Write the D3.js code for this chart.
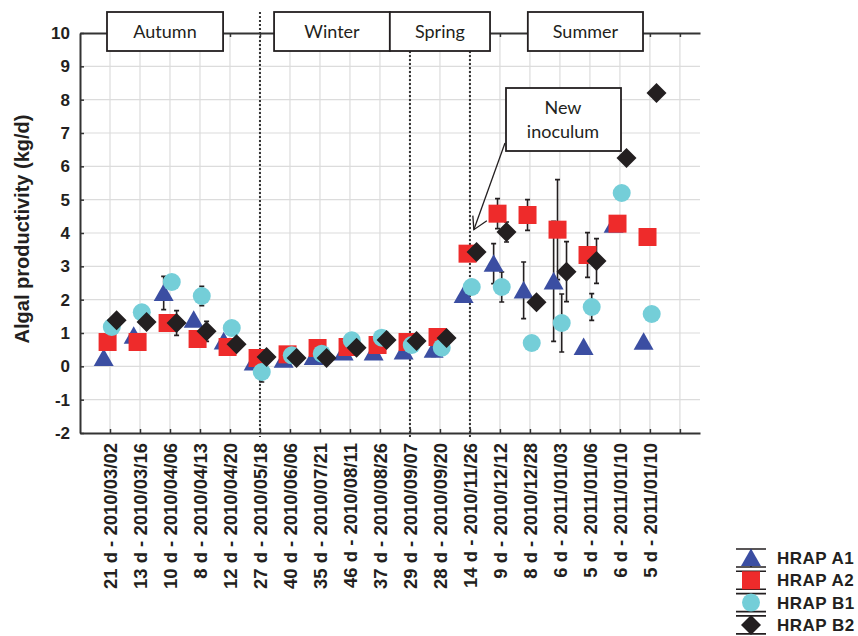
<!DOCTYPE html>
<html lang="en">

<head>
    <meta charset="utf-8">
    <script src="https://d3js.org/d3.v7.min.js"></script>
    <style>
        body {
            margin: 0;
            background: #fff;
            font-family: "Liberation Sans", Arial, sans-serif;
        }
    </style>
</head>

<body>
    <div id="chart"></div>
    <script>
        // categories (x axis), one per sampling
        var categories = ["21 d - 2010/03/02", "13 d - 2010/03/16", "10 d - 2010/04/06", "8 d - 2010/04/13",
            "12 d - 2010/04/20", "27 d - 2010/05/18", "40 d - 2010/06/06", "35 d - 2010/07/21",
            "46 d - 2010/08/11", "37 d - 2010/08/26", "29 d - 2010/09/07", "28 d - 2010/09/20",
            "14 d - 2010/11/26", "9 d - 2010/12/12", "8 d - 2010/12/28", "6 d - 2011/01/03",
            "5 d - 2011/01/06", "6 d - 2011/01/10", "5 d - 2011/01/10"
        ];

        // algal productivity (kg/d)
        var hrapA1 = [0.25, 0.92, 2.2, 1.4, 0.75, 0.12, 0.2, 0.28, 0.42, 0.42, 0.45, 0.5, 2.14, 3.08, 2.28, 2.55, 0.58, 4.25, 0.74];
        var hrapA2 = [0.73, 0.73, 1.3, 0.82, 0.58, 0.25, 0.36, 0.55, 0.58, 0.64, 0.73, 0.88, 3.38, 4.58, 4.54, 4.1, 3.34, 4.28, 3.88];
        var hrapB1 = [1.18, 1.62, 2.53, 2.11, 1.15, -0.17, 0.33, 0.38, 0.78, 0.86, 0.64, 0.56, 2.38, 2.38, 0.7, 1.3, 1.78, 5.2, 1.57];
        var hrapB2 = [1.38, 1.33, 1.3, 1.05, 0.66, 0.28, 0.25, 0.25, 0.56, 0.79, 0.76, 0.85, 3.43, 4.03, 1.92, 2.84, 3.16, 6.25, 8.2];

        // error bars (+/- kg/d), null = none
        var errA1 = [null, null, 0.5, null, null, null, null, null, null, null, null, 0.2, null, 0.6, 0.85, 1.8, null, null, null];
        var errA2 = [null, null, null, null, null, null, null, null, null, null, null, null, 0.2, 0.45, 0.46, 1.5, 0.67, null, null];
        var errB1 = [null, null, null, 0.29, null, 0.3, null, null, null, null, null, null, null, 0.45, null, 0.87, 0.4, null, null];
        var errB2 = [null, null, 0.37, 0.3, null, null, null, null, null, null, null, null, null, 0.3, null, 0.9, 0.67, null, null];

        var seriesNames = ["HRAP A1", "HRAP A2", "HRAP B1", "HRAP B2"];
        var seasons = ["Autumn", "Winter", "Spring", "Summer"];
        // season changes (category number)
        var seasonBreaks = [6, 11, 13];
        var yTicks = [-2, -1, 0, 1, 2, 3, 4, 5, 6, 7, 8, 9, 10];

        // layout
        var W = 858,
            H = 636;
        var mLeft = 80,
            mRight = 700,
            mTop = 33,
            mBottom = 433;

        var svg = d3.select("#chart")
            .append("svg")
            .attr("width", W)
            .attr("height", H);

        var x = d3.scaleLinear().domain([0, 20.67]).range([mLeft, mRight]);
        var y = d3.scaleLinear().domain([-2, 10]).range([mBottom, mTop]);

        var xTickVals = d3.range(1, 21);

        // grid
        svg.append("g")
            .selectAll("line")
            .data(xTickVals)
            .enter()
            .append("line")
            .attr("x1", function(d) { return x(d); })
            .attr("x2", function(d) { return x(d); })
            .attr("y1", mTop)
            .attr("y2", mBottom)
            .attr("stroke", "#dcdcdc")
            .attr("stroke-width", 1.2);

        svg.append("g")
            .selectAll("line")
            .data(yTicks.slice(1, -1))
            .enter()
            .append("line")
            .attr("x1", mLeft)
            .attr("x2", mRight)
            .attr("y1", function(d) { return y(d); })
            .attr("y2", function(d) { return y(d); })
            .attr("stroke", "#dcdcdc")
            .attr("stroke-width", 1.2);

        // axes
        var yAxis = svg.append("g")
            .attr("transform", "translate(" + mLeft + ",0)")
            .call(d3.axisLeft(y).tickValues(yTicks).tickSize(-4).tickPadding(10).tickSizeOuter(0)
                .tickFormat(function(d) { return String(d); }));
        yAxis.selectAll("text")
            .style("font-size", "17px")
            .style("font-weight", "bold")
            .attr("fill", "#231f20");

        var xAxis = svg.append("g")
            .attr("transform", "translate(0," + mBottom + ")")
            .call(d3.axisBottom(x).tickValues(xTickVals).tickSize(-4).tickSizeOuter(0)
                .tickFormat(function(d) { return categories[d - 1] || ""; }));
        xAxis.selectAll("text")
            .attr("transform", "rotate(-90)")
            .attr("x", -10)
            .attr("y", 0)
            .attr("dy", "0.36em")
            .style("text-anchor", "end")
            .style("font-size", "18.5px")
            .style("font-weight", "bold")
            .attr("fill", "#231f20");

        var topAxis = svg.append("g")
            .attr("transform", "translate(0," + mTop + ")")
            .call(d3.axisTop(x).tickValues(xTickVals).tickSize(-4).tickSizeOuter(0).tickFormat(""));

        svg.selectAll(".domain, .tick line")
            .attr("stroke", "#333")
            .attr("stroke-width", 2);
        svg.selectAll(".tick line").attr("stroke-width", 1.5);

        // season separators (dotted)
        svg.append("g")
            .selectAll("line")
            .data(seasonBreaks)
            .enter()
            .append("line")
            .attr("x1", function(d) { return x(d); })
            .attr("x2", function(d) { return x(d); })
            .attr("y1", function(d, i) { return i == 0 ? 12 : 51; })
            .attr("y2", mBottom + 4)
            .attr("stroke", "#333")
            .attr("stroke-width", 2)
            .attr("stroke-dasharray", "2,2");

        // season boxes [from, to] in category units
        var seasonBox = [[0.9, 4.77], [6.47, 10.33], [10.33, 13.67], [14.93, 18.77]];
        var sb = svg.append("g")
            .selectAll("g")
            .data(seasons)
            .enter()
            .append("g");
        sb.append("rect")
            .attr("x", function(d, i) { return x(seasonBox[i][0]); })
            .attr("width", function(d, i) { return x(seasonBox[i][1]) - x(seasonBox[i][0]); })
            .attr("y", 12)
            .attr("height", 39)
            .attr("fill", "#fff")
            .attr("stroke", "#231f20")
            .attr("stroke-width", 1.8);
        sb.append("text")
            .attr("x", function(d, i) { return (x(seasonBox[i][0]) + x(seasonBox[i][1])) / 2; })
            .attr("y", 38)
            .attr("text-anchor", "middle")
            .style("font-family", "Lato, 'Open Sans', sans-serif")
            .style("font-size", "18px")
            .attr("fill", "#231f20")
            .text(function(d) { return d; });

        // y label
        svg.append("text")
            .attr("transform", "translate(29," + 229 + ") rotate(-90)")
            .attr("text-anchor", "middle")
            .style("font-size", "20px")
            .style("font-weight", "bold")
            .attr("fill", "#231f20")
            .text("Algal productivity (kg/d)");

        // marker shapes
        function shapePath(kind, r) {
            if (kind == "tri") return "M0," + (-r) + "L" + (r * 1.05) + "," + (r * 0.85) + "L" + (-r * 1.05) + "," + (r * 0.85) + "Z";
            if (kind == "sq") return "M" + (-r) + "," + (-r) + "h" + (2 * r) + "v" + (2 * r) + "h" + (-2 * r) + "Z";
            if (kind == "dia") return "M0," + (-r) + "L" + r + ",0L0," + r + "L" + (-r) + ",0Z";
            return d3.arc()({ innerRadius: 0, outerRadius: r, startAngle: 0, endAngle: 2 * Math.PI });
        }

        var series = [
            { name: seriesNames[0], vals: hrapA1, err: errA1, shape: "tri", color: "#3b4ea2", r: 9.5, dx: -0.21 },
            { name: seriesNames[1], vals: hrapA2, err: errA2, shape: "sq", color: "#ee2b2b", r: 9, dx: -0.08 },
            { name: seriesNames[2], vals: hrapB1, err: errB1, shape: "circ", color: "#74ced8", r: 9, dx: 0.06 },
            { name: seriesNames[3], vals: hrapB2, err: errB2, shape: "dia", color: "#231f20", r: 10, dx: 0.22 }
        ];

        // error bars first
        series.forEach(function(s) {
            var pts = s.vals.map(function(v, i) { return { i: i + 1, v: v, e: s.err[i] }; })
                .filter(function(p) { return p.e != null; });
            var g = svg.append("g");
            g.selectAll(".eb")
                .data(pts)
                .enter()
                .append("path")
                .attr("d", function(p) {
                    var cx = x(p.i + s.dx),
                        y1 = y(p.v + p.e),
                        y2 = y(p.v - p.e);
                    return "M" + cx + "," + y1 + "V" + y2 + "M" + (cx - 2.5) + "," + y1 + "h5M" + (cx - 2.5) + "," + y2 + "h5";
                })
                .attr("stroke", "#231f20")
                .attr("stroke-width", 1.6)
                .attr("fill", "none");
        });

        // markers
        series.forEach(function(s) {
            svg.append("g")
                .selectAll("path")
                .data(s.vals)
                .enter()
                .append("path")
                .attr("transform", function(v, i) { return "translate(" + x(i + 1 + s.dx) + "," + y(v) + ")"; })
                .attr("d", shapePath(s.shape, s.r))
                .attr("fill", s.color);
        });

        // "New inoculum" callout
        var tipX = x(13.13),
            tipY = y(4.1);
        var cb = svg.append("g");
        cb.append("line")
            .attr("x1", 505).attr("y1", 143)
            .attr("x2", tipX).attr("y2", tipY)
            .attr("stroke", "#231f20").attr("stroke-width", 1.3);
        cb.append("path")
            .attr("d", "M" + (tipX + 13) + "," + (tipY - 9) + "L" + tipX + "," + tipY + "L" + (tipX - 1) + "," + (tipY - 14))
            .attr("fill", "none").attr("stroke", "#231f20").attr("stroke-width", 1.3);
        cb.append("rect")
            .attr("x", 506).attr("y", 88).attr("width", 115).attr("height", 63)
            .attr("fill", "#fff").attr("stroke", "#231f20").attr("stroke-width", 1.8);
        cb.append("text")
            .attr("x", 563).attr("y", 114)
            .attr("text-anchor", "middle")
            .style("font-family", "Lato, 'Open Sans', sans-serif")
            .style("font-size", "18px")
            .attr("fill", "#231f20")
            .text("New");
        cb.append("text")
            .attr("x", 563).attr("y", 138)
            .attr("text-anchor", "middle")
            .style("font-family", "Lato, 'Open Sans', sans-serif")
            .style("font-size", "18px")
            .attr("fill", "#231f20")
            .text("inoculum");

        // legend
        var lg = svg.append("g")
            .selectAll("g")
            .data(series)
            .enter()
            .append("g")
            .attr("transform", function(d, i) { return "translate(751," + (558 + i * 22.3) + ")"; });
        lg.append("path")
            .attr("d", "M-15,-9h30M-15,9h30M0,-9V9")
            .attr("stroke", "#231f20")
            .attr("stroke-width", 1.6);
        lg.append("path")
            .attr("d", function(d) { return shapePath(d.shape, d.r); })
            .attr("fill", function(d) { return d.color; });
        lg.append("text")
            .attr("x", 26)
            .attr("y", 6)
            .style("font-size", "17px")
            .style("font-weight", "bold")
            .style("letter-spacing", "0.5px")
            .attr("fill", "#231f20")
            .text(function(d) { return d.name; });
    </script>
</body>

</html>
